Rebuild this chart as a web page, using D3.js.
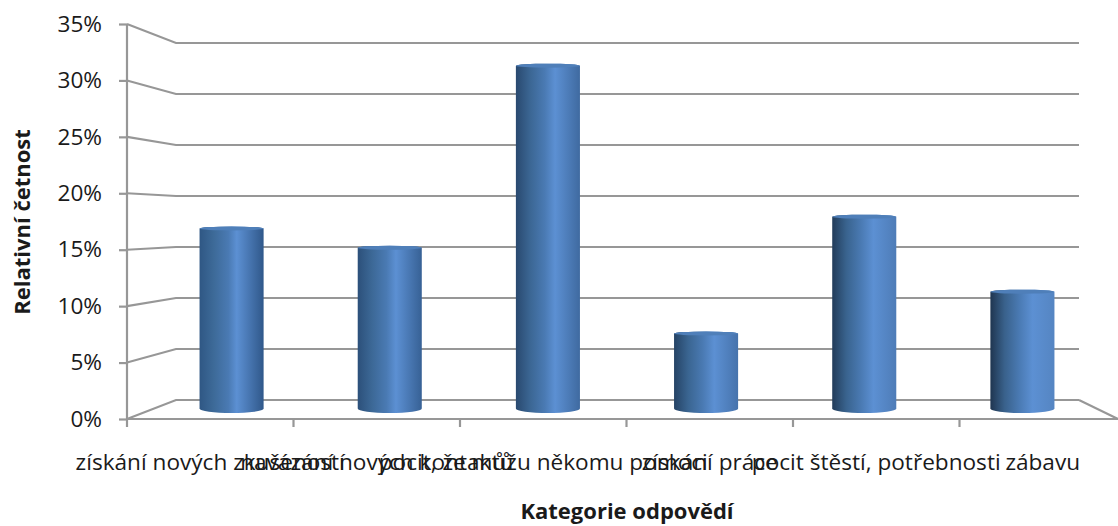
<!DOCTYPE html>
<html>
<head>
<meta charset="utf-8">
<script src="https://cdn.jsdelivr.net/npm/d3@7"></script>
<style>
  html, body { margin: 0; padding: 0; background: #fff; }
  svg { display: block; }
  text { fill: #1a1a1a; font-family: "Open Sans", sans-serif; }
</style>
</head>
<body>
<svg id="chart" width="1118" height="526"></svg>
<script>
const categories = [
  "získání nových zkušeností",
  "navázání nových kontaktů",
  "pocit, že můžu někomu pomoci",
  "získání práce",
  "pocit štěstí, potřebnosti",
  "zábavu"
];
const shares = [0.168, 0.150, 0.320, 0.070, 0.179, 0.109];
const yTicks = [0, 0.05, 0.10, 0.15, 0.20, 0.25, 0.30, 0.35];
const xTitle = "Kategorie odpovědí";
const yTitle = "Relativní četnost";

const svg = d3.select("#chart");
const gridColor = "#979797";
const labelSize = 22.6;

// Oblique box: front plane, back wall and the mid-depth plane the cylinders stand in.
const yFront = d3.scaleLinear().domain([0, 0.35]).range([419, 24]);
const yBack = d3.scaleLinear().domain([0, 0.35]).range([400, 43]);
const yMid = d3.scaleLinear().domain([0, 0.35]).range([408.5, 33.5]);
const xFront = d3.scaleBand().domain(categories).range([127, 1126]);
const xMid = d3.scaleBand().domain(categories).range([152.5, 1101.5])
  .paddingInner(0.595).paddingOuter(0.2975);
const backLeft = 176, backRight = 1079;

// Wall gridlines with their slanted run back from the axis
svg.append("g").selectAll("path").data(yTicks).join("path")
  .attr("fill", "none").attr("stroke", gridColor).attr("stroke-width", 2.1)
  .attr("d", d => d3.line()([[xFront.range()[0], yFront(d)], [backLeft, yBack(d)], [backRight, yBack(d)]]));

// Right edge of the floor
svg.append("path").attr("fill", "none").attr("stroke", gridColor).attr("stroke-width", 2.1)
  .attr("d", d3.line()([[backRight, yBack(0)], [1118, yFront(0)]]));

// Value axis
const yAxis = svg.append("g").attr("transform", "translate(127,0)")
  .call(d3.axisLeft(yFront).tickValues(yTicks).tickFormat(d3.format(".0%")).tickSize(8).tickPadding(17));
yAxis.selectAll("line,path").attr("stroke", gridColor).attr("stroke-width", 2.2);
yAxis.select("path").attr("d", `M0,${yFront(0.35)}V${yFront(0)}`);
yAxis.selectAll("text").attr("font-size", labelSize).attr("font-family", '"Open Sans", sans-serif').attr("fill", "#1a1a1a");

// Category axis: the ticks sit on band boundaries, the labels on band centres
const baseline = svg.append("g").attr("transform", `translate(0,${yFront(0)})`);
baseline.append("line").attr("x1", 127).attr("x2", 1118).attr("stroke", gridColor).attr("stroke-width", 2.2);
baseline.selectAll("line.tick").data(categories).join("line").attr("class", "tick")
  .attr("x1", d => xFront(d)).attr("x2", d => xFront(d))
  .attr("y1", 0).attr("y2", 8).attr("stroke", gridColor).attr("stroke-width", 2.2);
svg.append("g").selectAll("text").data(categories).join("text")
  .attr("x", d => xFront(d) + xFront.bandwidth() / 2)
  .attr("y", 470).attr("text-anchor", "middle").attr("font-size", labelSize)
  .text(d => d);

// Cylinder shading shifts with position: bars further right show a darker left flank
const defs = svg.append("defs");
const leftEdge = d3.interpolateRgb("#2f5784", "#1f3550");
const rightEdge = d3.interpolateRgb("#30588a", "#5585c2");
categories.forEach((c, i) => {
  const t = i / (categories.length - 1);
  const g = defs.append("linearGradient").attr("id", `cyl${i}`);
  const stops = [
    [0, leftEdge(t)],
    [0.22, d3.interpolateRgb(leftEdge(t), "#41709f")(0.75)],
    [0.45, "#4a7ab3"],
    [0.58 + 0.08 * t, "#5c90d3"],
    [1, rightEdge(t)]
  ];
  stops.forEach(([o, col]) => g.append("stop").attr("offset", o).attr("stop-color", col));
});

const rxOf = () => xMid.bandwidth() / 2;
const bars = svg.append("g").selectAll("g").data(categories).join("g");
const bottomRy = 4.5, topRy = 2;

bars.append("path")
  .attr("fill", (d, i) => `url(#cyl${i})`)
  .attr("d", (d, i) => {
    const x0 = xMid(d), x1 = x0 + xMid.bandwidth();
    const yt = yMid(shares[i]), yb = yMid(0);
    return `M${x0},${yt}A${rxOf()},${topRy} 0 0 1 ${x1},${yt}` +
           `L${x1},${yb}A${rxOf()},${bottomRy} 0 0 1 ${x0},${yb}Z`;
  });
// Top caps
bars.append("ellipse")
  .attr("cx", d => xMid(d) + xMid.bandwidth() / 2)
  .attr("cy", (d, i) => yMid(shares[i]))
  .attr("rx", rxOf()).attr("ry", topRy)
  .attr("fill", "#4f7fb9");

// Axis titles
svg.append("text").attr("x", 627).attr("y", 519).attr("text-anchor", "middle")
  .attr("font-size", 22).attr("font-weight", 700).text(xTitle);
svg.append("text").attr("transform", "translate(30,222) rotate(-90)").attr("text-anchor", "middle")
  .attr("font-size", 22).attr("font-weight", 700).text(yTitle);
</script>
</body>
</html>
